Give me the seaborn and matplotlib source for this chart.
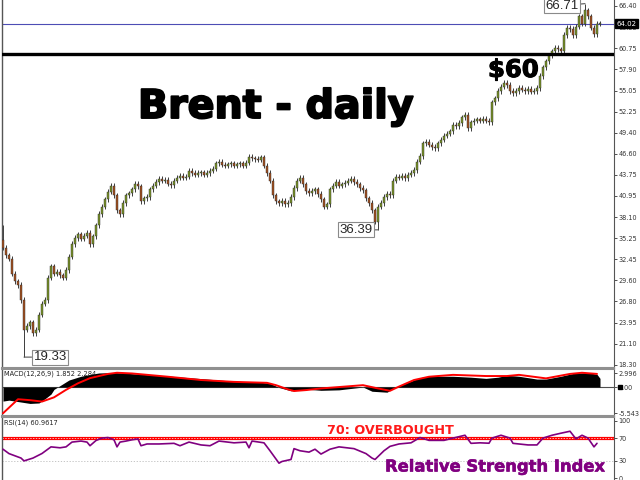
import numpy as np
import pandas as pd
import seaborn as sns
import matplotlib.pyplot as plt
import matplotlib.patheffects as pe

# daily closes (one per bar, left to right)
closes = [34.0, 33.0, 32.5, 30.5, 29.5, 29.0, 27.0, 23.0, 23.5, 24.0,
          22.5, 23.0, 25.0, 26.5, 27.0, 30.0, 31.5, 30.5, 30.8, 30.3,
          30.0, 31.0, 32.8, 34.5, 35.3, 35.8, 35.2, 35.6, 36.0, 34.5,
          35.5, 37.0, 38.5, 39.5, 40.5, 41.5, 42.3, 41.0, 39.0, 38.5,
          40.0, 41.0, 41.3, 41.8, 42.6, 42.2, 40.2, 40.6, 40.8, 41.8,
          42.3, 42.8, 43.2, 43.0, 43.1, 42.6, 42.4, 43.0, 43.4, 43.6,
          43.4, 43.5, 44.3, 44.0, 43.8, 44.0, 44.1, 43.8, 44.0, 44.3,
          44.6, 45.3, 45.5, 45.1, 45.0, 45.2, 45.3, 45.0, 45.2, 45.3,
          45.0, 45.4, 46.2, 46.0, 45.9, 45.8, 46.1, 45.0, 44.0, 43.0,
          41.0, 40.2, 40.0, 40.3, 39.8, 40.0, 40.8, 42.0, 43.0, 43.4,
          42.5, 41.6, 41.3, 41.6, 41.8, 41.2, 40.5, 39.5, 39.8, 41.8,
          42.3, 42.8, 42.3, 42.5, 42.7, 43.0, 43.2, 42.8, 42.5, 42.0,
          41.7, 40.6, 40.0, 39.0, 37.5, 39.5, 40.0, 40.8, 41.2, 41.0,
          43.0, 43.5, 43.4, 43.6, 43.3, 43.8, 44.0, 44.4, 45.5, 46.3,
          48.0, 48.2, 47.8, 47.5, 47.3, 48.0, 48.5, 49.0, 49.3, 49.6,
          50.5, 50.3, 50.7, 51.5, 51.8, 50.0, 50.8, 51.0, 51.2, 51.0,
          51.3, 51.0, 50.8, 53.5, 54.0, 55.0, 55.6, 56.1, 55.8, 55.0,
          54.7, 55.0, 55.4, 55.2, 55.0, 55.3, 54.9, 55.0, 55.4, 57.0,
          58.2, 59.0, 59.8, 60.3, 60.8, 60.6, 60.4, 62.5, 63.5, 63.3,
          62.5, 63.6, 65.0, 64.0, 65.8, 65.0, 63.5, 62.6, 64.0, 64.02]
first_open = 35.0
wick_pad = 0.35
extreme_lows = {7: 19.33, 125: 36.39}
extreme_highs = {0: 37.0, 194: 66.71}

price_ticks = [66.40, 63.55, 60.75, 57.90, 55.05, 52.25, 49.40, 46.60, 43.75,
               40.95, 38.10, 35.25, 32.45, 29.60, 26.80, 23.95, 21.10, 18.30]
last_price = 64.02
key_level = 60

macd_bars = [0, 2, 6, 9, 12, 14, 16, 17, 19, 22, 26, 29, 32, 37, 42, 49, 56, 66,
             76, 86, 89, 92, 96, 99, 102, 106, 112, 120, 123, 128, 131, 135, 139,
             142, 150, 156, 161, 165, 168, 172, 178, 181, 186, 190, 195, 198, 199]
macd_vals = [-3.0, -2.8, -3.2, -3.5, -3.4, -2.5, -1.5, -0.5, 0.3, 1.5, 2.3, 2.7,
             3.0, 3.1, 2.9, 2.6, 2.3, 1.8, 1.3, 1.0, 0.8, -0.1, -0.8, -0.7, -0.5,
             -0.7, -0.6, 0.0, -0.9, -1.1, 0.0, 1.0, 2.0, 2.3, 2.3, 2.1, 1.85, 2.1,
             2.5, 2.3, 1.7, 1.7, 2.3, 2.9, 3.1, 2.7, 1.85]
signal_bars = [0, 5, 9, 13, 17, 21, 25, 29, 35, 38, 43, 55, 66, 77, 88, 91, 95,
               97, 101, 106, 120, 125, 129, 132, 137, 142, 150, 161, 168, 172,
               181, 189, 193, 198]
signal_vals = [-5.6, -2.6, -2.8, -3.1, -2.2, -0.6, 0.8, 1.9, 2.8, 3.05, 2.9, 2.2,
               1.5, 1.1, 0.9, 0.4, -0.5, -0.85, -0.65, -0.3, 0.4, -0.3, -0.8, 0.1,
               1.5, 2.2, 2.6, 2.35, 2.35, 2.6, 1.85, 2.8, 3.05, 2.8]
macd_ticks = [2.996, 0.0, -5.543]
macd_labels = ['2.996', '0.00', '-5.543']

rsi_bars = [0, 2, 6, 7, 10, 13, 16, 19, 21, 23, 26, 28, 29, 31, 33, 35, 37, 38,
            39, 41, 43, 45, 46, 48, 52, 57, 59, 62, 66, 69, 72, 77, 81, 82, 83,
            87, 89, 92, 93, 96, 97, 99, 102, 104, 106, 109, 112, 117, 121, 123,
            124, 127, 129, 132, 136, 139, 142, 147, 150, 154, 156, 159, 162, 163,
            166, 169, 170, 175, 178, 180, 183, 186, 189, 191, 193, 195, 197, 198]
rsi_vals = [50.5, 42.8, 35, 30, 35, 43, 54.6, 53, 54.6, 63, 64.8, 63, 56.6, 65.8,
            70, 71, 67, 54.6, 63, 64.8, 67, 68.5, 56.6, 59.7, 59.7, 60.8, 56.6,
            63, 58, 56.6, 64.8, 61.7, 63, 53, 64.8, 61.7, 47.8, 26, 29, 32.5,
            51.5, 47.8, 45.4, 50.5, 42, 50.5, 54.6, 51.5, 42.8, 35, 32.5, 47.8,
            55.5, 59.7, 61.7, 71, 66, 66, 70, 75, 60.8, 61.7, 61, 70, 75, 70,
            60.8, 58, 58, 70, 75, 78.6, 82, 68.5, 75, 70, 54.6, 60.8]
rsi_ticks = [100, 70, 30, 0]

# build OHLC table
opens = [first_open] + closes[:-1]
df = pd.DataFrame({'bar': np.arange(len(closes)), 'open': opens, 'close': closes})
df['high'] = df[['open', 'close']].max(axis=1) + wick_pad
df['low'] = df[['open', 'close']].min(axis=1) - wick_pad
for b, v in extreme_lows.items():
    df.loc[b, 'low'] = v
for b, v in extreme_highs.items():
    df.loc[b, 'high'] = v

sns.set_style('white')
plt.rcParams['font.family'] = ['DejaVu Sans']

fig = plt.figure(figsize=(6.4, 4.8), dpi=100)
ax = fig.add_axes([0.003125, 0.23333, 0.95625, 0.76667])
ax2 = fig.add_axes([0.003125, 0.13333, 0.95625, 0.09792])
ax3 = fig.add_axes([0.003125, 0.0, 0.95625, 0.13125])
xlim = (-0.333, 203.667)

# candles
up = df['close'] >= df['open']
ax.vlines(df['bar'], df['low'], df['high'], color='#3c3c3c', lw=0.7, zorder=2)
body = (df['close'] - df['open']).abs().clip(lower=0.1)
ax.bar(df['bar'][up], body[up], bottom=df['open'][up], width=0.7,
       color='#7a9428', edgecolor='#2a2a2a', linewidth=0.3, zorder=3)
ax.bar(df['bar'][~up], body[~up], bottom=df['close'][~up], width=0.7,
       color='#a4501f', edgecolor='#2a2a2a', linewidth=0.3, zorder=3)

ax.axhline(last_price, color='#4d4db5', lw=0.8, zorder=1)
ax.axhline(key_level, color='black', lw=2.4, zorder=4)

ax.set_xlim(*xlim)
ax.set_ylim(17.87, 67.2)
ax.set_xticks([])
ax.yaxis.tick_right()
ax.set_yticks(price_ticks)
ax.set_yticklabels([f'{t:.2f}' for t in price_ticks])
ax.text(1.004, last_price, f'{last_price:.2f}', transform=ax.get_yaxis_transform(),
        fontsize=5.0, color='white', va='center', ha='left', zorder=10,
        bbox=dict(boxstyle='square,pad=0.2', fc='black', ec='black'))

# labelled extremes
label_box = dict(boxstyle='square,pad=0.12', fc='white', ec='#8a8a8a', lw=0.8)
line_props = dict(arrowstyle='-', color='#555555', lw=0.8, shrinkA=0, shrinkB=0)
ax.annotate('19.33', xy=(7, 19.33), xytext=(10.2, 19.33), ha='left', va='center',
            fontsize=9.5, family='Liberation Sans', bbox=label_box, arrowprops=line_props)
ax.annotate('36.39', xy=(125, 36.39), xytext=(123.2, 36.39), ha='right', va='center',
            fontsize=9.5, family='Liberation Sans', bbox=label_box, arrowprops=line_props)
ax.annotate('66.71', xy=(194, 66.71), xytext=(191.8, 66.45), ha='right', va='center',
            fontsize=9.5, family='Liberation Sans', bbox=label_box, arrowprops=line_props)

# MACD panel
ax2.fill_between(macd_bars, 0, macd_vals, color='black', lw=0, zorder=2)
ax2.axhline(0, color='#505050', lw=0.8, zorder=1)
sns.lineplot(x=signal_bars, y=signal_vals, color='red', lw=1.4, ax=ax2, zorder=3)
ax2.set_xlim(*xlim)
ax2.set_ylim(-6.18, 3.85)
ax2.set_xticks([])
ax2.yaxis.tick_right()
ax2.set_yticks(macd_ticks)
ax2.set_yticklabels(macd_labels)
ax2.plot([1.0095], [0], marker='s', ms=3.0, color='black',
         transform=ax2.get_yaxis_transform(), clip_on=False, zorder=10)
ax2.text(0.004, 0.96, 'MACD(12,26,9) 1.852 2.284', transform=ax2.transAxes,
         fontsize=4.8, color='#222222', va='top', ha='left')

# RSI panel
ax3.axhline(70, color='red', lw=2.3, zorder=1)
ax3.axhline(70, color='white', lw=0.5, ls=(0, (2, 2)), zorder=1)
ax3.axhline(30, color='#bbbbbb', lw=0.6, ls=(0, (1.5, 2)), zorder=1)
sns.lineplot(x=rsi_bars, y=rsi_vals, color='#800080', lw=1.2, ax=ax3, zorder=3)
ax3.set_xlim(*xlim)
ax3.set_ylim(-3.5, 107)
ax3.set_xticks([])
ax3.yaxis.tick_right()
ax3.set_yticks(rsi_ticks)
ax3.set_yticklabels([str(t) for t in rsi_ticks])
ax3.text(0.004, 0.96, 'RSI(14) 60.9617', transform=ax3.transAxes,
         fontsize=4.8, color='#222222', va='top', ha='left')

for a in (ax, ax2, ax3):
    a.set_xlabel('')
    a.set_ylabel('')
    a.tick_params(axis='y', labelsize=4.7, length=2.5, width=0.6, pad=0.8,
                  colors='#333333', direction='out')
    a.spines['left'].set_color('#555555')
    a.spines['left'].set_linewidth(1.0)
    a.spines['right'].set_color('#555555')
    a.spines['right'].set_linewidth(0.8)
    a.patch.set_alpha(0)
ax.spines['top'].set_visible(False)
ax.spines['bottom'].set_color('#909090')
ax.spines['bottom'].set_linewidth(1.5)
ax2.spines['top'].set_color('#909090')
ax2.spines['top'].set_linewidth(1.5)
ax2.spines['bottom'].set_color('#909090')
ax2.spines['bottom'].set_linewidth(1.5)
ax3.spines['top'].set_color('#909090')
ax3.spines['top'].set_linewidth(1.5)
ax3.spines['bottom'].set_visible(False)

# headline texts (a thin stroke makes them as heavy as the original)
fig.text(0.2156, 0.7542, 'Brent - daily', fontsize=28.5, fontweight='bold',
         color='black', va='baseline', ha='left',
         path_effects=[pe.withStroke(linewidth=1.4, foreground='black')])
fig.text(0.7625, 0.8396, '$60', fontsize=17.5, fontweight='bold',
         color='black', va='baseline', ha='left',
         path_effects=[pe.withStroke(linewidth=0.8, foreground='black')])
fig.text(0.511, 0.0958, '70: OVERBOUGHT', fontsize=9.2, fontweight='bold',
         color='#ff1a1a', va='baseline', ha='left')
fig.text(0.6016, 0.0177, 'Relative Strength Index', fontsize=11.8, fontweight='bold',
         color='#800080', va='baseline', ha='left',
         path_effects=[pe.withStroke(linewidth=0.4, foreground='#800080')])

fig.savefig('out.png', dpi=100, facecolor='white')
